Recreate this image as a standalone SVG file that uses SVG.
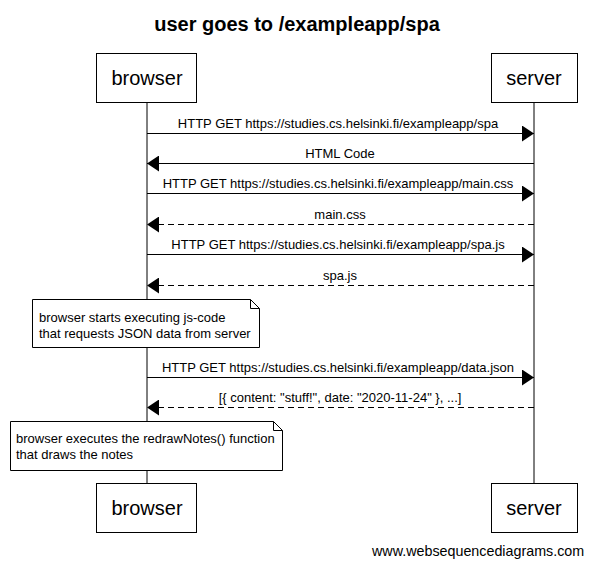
<svg xmlns="http://www.w3.org/2000/svg" width="592" height="566" viewBox="0 0 592 566">
<style>
text{font-family:"Liberation Sans",Arial,sans-serif;fill:#000}
.title{font-size:20px;font-weight:bold;text-anchor:middle}
.actor rect{fill:#fff;stroke:#000;stroke-width:1}
.actor text{font-size:20px;text-anchor:middle}
.life{stroke:#000;stroke-width:1}
.msg{stroke:#000;stroke-width:1;fill:none}
.dash{stroke-dasharray:6,4}
.lbl{font-size:13px;text-anchor:middle}
.note path{fill:#fff;stroke:#000;stroke-width:1}
.note text{font-size:13px}
.wm{font-size:14.3px}
</style>
<defs>
<marker id="ah" markerWidth="12" markerHeight="16" refX="12" refY="8" orient="auto" markerUnits="userSpaceOnUse">
<path d="M0,0 L12,8 L0,16 Z" fill="#000"/>
</marker>
</defs>
<rect width="592" height="566" fill="#fff"/>
<text class="title" x="297" y="31">user goes to /exampleapp/spa</text>
<g id="lifelines">
<line class="life" x1="147" y1="102" x2="147" y2="483"/>
<line class="life" x1="534" y1="102" x2="534" y2="483"/>
</g>
<g id="browser-top" class="actor"><rect x="96.5" y="53.5" width="100" height="49"/><text x="147" y="85">browser</text></g>
<g id="server-top" class="actor"><rect x="491.5" y="53.5" width="86" height="49"/><text x="534" y="85">server</text></g>
<g id="browser-bottom" class="actor"><rect x="96.5" y="483.5" width="100" height="49"/><text x="147" y="515">browser</text></g>
<g id="server-bottom" class="actor"><rect x="491.5" y="483.5" width="86" height="49"/><text x="534" y="515">server</text></g>
<g id="connectors">
<line class="msg" x1="147" y1="133.5" x2="534" y2="133.5" marker-end="url(#ah)"/>
<text class="lbl" x="338" y="128">HTTP GET https://studies.cs.helsinki.fi/exampleapp/spa</text>
<line class="msg" x1="534" y1="163.5" x2="147" y2="163.5" marker-end="url(#ah)"/>
<text class="lbl" x="340" y="158">HTML Code</text>
<line class="msg" x1="147" y1="193.5" x2="534" y2="193.5" marker-end="url(#ah)"/>
<text class="lbl" x="338" y="188">HTTP GET https://studies.cs.helsinki.fi/exampleapp/main.css</text>
<line class="msg dash" x1="534" y1="224.5" x2="147" y2="224.5" marker-end="url(#ah)"/>
<text class="lbl" x="340" y="219">main.css</text>
<line class="msg" x1="147" y1="254.5" x2="534" y2="254.5" marker-end="url(#ah)"/>
<text class="lbl" x="338" y="249">HTTP GET https://studies.cs.helsinki.fi/exampleapp/spa.js</text>
<line class="msg dash" x1="534" y1="285.5" x2="147" y2="285.5" marker-end="url(#ah)"/>
<text class="lbl" x="340" y="280">spa.js</text>
<line class="msg" x1="147" y1="377.5" x2="534" y2="377.5" marker-end="url(#ah)"/>
<text class="lbl" x="338" y="372">HTTP GET https://studies.cs.helsinki.fi/exampleapp/data.json</text>
<line class="msg dash" x1="534" y1="407.5" x2="147" y2="407.5" marker-end="url(#ah)"/>
<text class="lbl" x="340" y="402">[{ content: "stuff!", date: "2020-11-24" }, ...]</text>
</g>
<g id="note1" class="note">
<path d="M32.5,299.5 H250.5 L259.5,308.5 V347.5 H32.5 Z M250.5,299.5 V308.5 H259.5"/>
<text x="39" y="322">browser starts executing js-code</text>
<text x="39" y="338">that requests JSON data from server</text>
</g>
<g id="note2" class="note">
<path d="M10.5,421.5 H273.5 L282.5,430.5 V470.5 H10.5 Z M273.5,421.5 V430.5 H282.5"/>
<text x="16" y="443">browser executes the redrawNotes() function</text>
<text x="16" y="459">that draws the notes</text>
</g>
<text class="wm" x="372" y="556">www.websequencediagrams.com</text>
</svg>
